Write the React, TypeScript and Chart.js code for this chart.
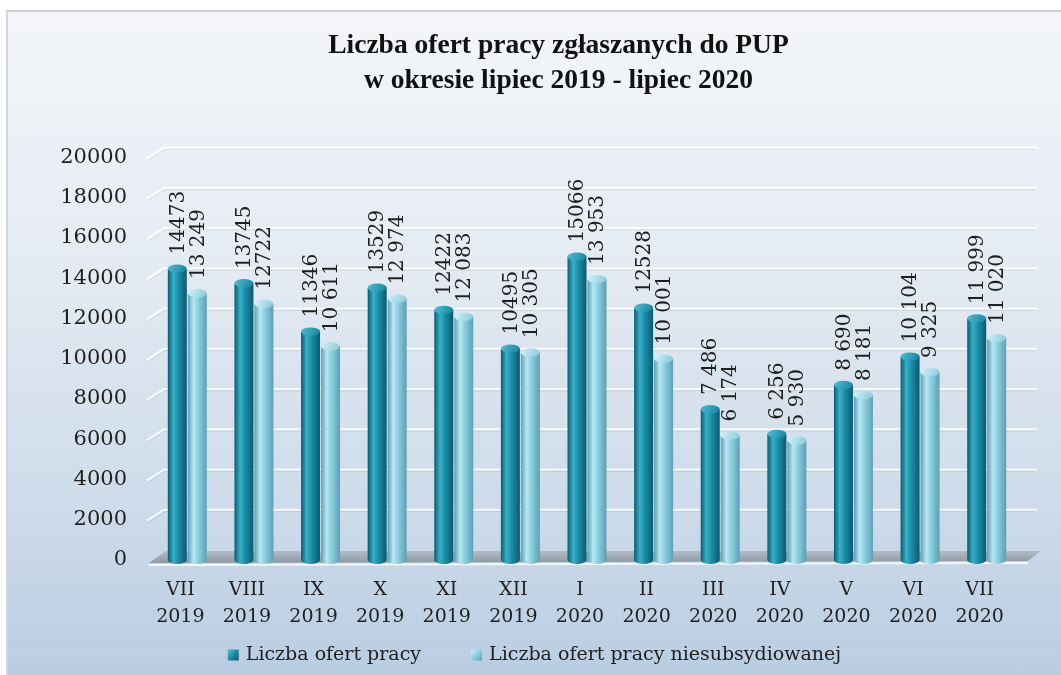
import React, { useEffect, useRef } from "react";
import { Chart, registerables } from "chart.js";

Chart.register(...registerables);

// ---------- data ----------
const months = ["VII", "VIII", "IX", "X", "XI", "XII", "I", "II", "III", "IV", "V", "VI", "VII"];
const years = ["2019", "2019", "2019", "2019", "2019", "2019", "2020", "2020", "2020", "2020", "2020", "2020", "2020"];
const offers = [14473, 13745, 11346, 13529, 12422, 10495, 15066, 12528, 7486, 6256, 8690, 10104, 11999];
const offersUnsub = [13249, 12722, 10611, 12974, 12083, 10305, 13953, 10001, 6174, 5930, 8181, 9325, 11020];
const offersLabels = ["14473", "13745", "11346", "13529", "12422", "10495", "15066", "12528", "7 486", "6 256", "8 690", "10 104", "11 999"];
const unsubLabels = ["13 249", "12722", "10 611", "12 974", "12 083", "10 305", "13 953", "10 001", "6 174", "5 930", "8 181", "9 325", "11 020"];
const seriesNames = ["Liczba ofert pracy", "Liczba ofert pracy niesubsydiowanej"];
const titleLines = ["Liczba ofert pracy zgłaszanych do PUP", "w okresie lipiec 2019 - lipiec 2020"];
const yMin = 0;
const yMax = 20000;
const yStep = 2000;

// ---------- styles ----------
const SERIF = "'DejaVu Serif', 'Liberation Serif', serif";
const TEXT = "#1f1f1f";
const DEPTH = 7;
const palettes = [
  { solid: "#1d8da7", edge: "#0a5b70", light: "#38b0c9", mid: "#1d8ea8", capA: "#4cc0d6", capB: "#17809a" },
  { solid: "#8acde0", edge: "#5c9fb3", light: "#b8e7f2", mid: "#8ccfe0", capA: "#d2f2f9", capB: "#86c8da" },
];
const allLabels = [offersLabels, unsubLabels];

function drawCylinder(ctx: CanvasRenderingContext2D, x: number, top: number, base: number, w: number, p: any) {
  const l = x - w / 2;
  const r = x + w / 2;
  const eh = Math.max(3, w * 0.22);
  const g = ctx.createLinearGradient(l, 0, r, 0);
  g.addColorStop(0, p.edge);
  g.addColorStop(0.3, p.light);
  g.addColorStop(0.55, p.mid);
  g.addColorStop(1, p.edge);
  ctx.fillStyle = g;
  ctx.beginPath();
  ctx.moveTo(l, top);
  ctx.lineTo(l, base);
  ctx.ellipse(x, base, w / 2, eh, 0, Math.PI, 0, true);
  ctx.lineTo(r, top);
  ctx.closePath();
  ctx.fill();
  const cg = ctx.createLinearGradient(l, top - eh, r, top + eh);
  cg.addColorStop(0, p.capA);
  cg.addColorStop(1, p.capB);
  ctx.fillStyle = cg;
  ctx.beginPath();
  ctx.ellipse(x, top, w / 2, eh, 0, 0, Math.PI * 2);
  ctx.fill();
}

const decorPlugin = {
  id: "decor3d",
  beforeDatasetsDraw(chart: any) {
    const ctx = chart.ctx as CanvasRenderingContext2D;
    const { left, right } = chart.chartArea;
    const ys = chart.scales.y;
    const base = ys.getPixelForValue(0);
    ctx.save();
    for (let v = yMin + yStep; v <= yMax; v += yStep) {
      const yv = ys.getPixelForValue(v);
      ctx.lineWidth = 2;
      ctx.strokeStyle = "rgba(255,255,255,0.8)";
      ctx.beginPath();
      ctx.moveTo(left, yv + 1);
      ctx.lineTo(left + 17, yv - 10);
      ctx.lineTo(right + 24, yv - 10);
      ctx.stroke();
      ctx.lineWidth = 1;
      ctx.strokeStyle = "rgba(140,155,170,0.22)";
      ctx.beginPath();
      ctx.moveTo(left + 1, yv + 3);
      ctx.lineTo(left + 18, yv - 8);
      ctx.lineTo(right + 22, yv - 8);
      ctx.stroke();
    }
    const fg = ctx.createLinearGradient(0, base - 9, 0, base + 3);
    fg.addColorStop(0, "#b3bcc6");
    fg.addColorStop(1, "#8e99a5");
    ctx.fillStyle = fg;
    ctx.beginPath();
    ctx.moveTo(left + 2, base + 3);
    ctx.lineTo(left + 19, base - 9);
    ctx.lineTo(right + 28, base - 9);
    ctx.lineTo(right + 15, base + 1);
    ctx.closePath();
    ctx.fill();
    ctx.strokeStyle = "rgba(255,255,255,0.8)";
    ctx.lineWidth = 2;
    ctx.beginPath();
    ctx.moveTo(left + 2, base + 5);
    ctx.lineTo(right + 15, base + 3);
    ctx.stroke();
    ctx.restore();
  },
  afterDatasetsDraw(chart: any) {
    const ctx = chart.ctx as CanvasRenderingContext2D;
    ctx.save();
    chart.data.datasets.forEach((ds: any, di: number) => {
      const meta = chart.getDatasetMeta(di);
      meta.data.forEach((bar: any) => {
        const p = bar.getProps(["x", "y", "base", "width"], true);
        drawCylinder(ctx, p.x + DEPTH, p.y, p.base, p.width, palettes[di]);
      });
    });
    chart.data.datasets.forEach((ds: any, di: number) => {
      const meta = chart.getDatasetMeta(di);
      meta.data.forEach((bar: any, i: number) => {
        const p = bar.getProps(["x", "y", "width"], true);
        const eh = Math.max(3, p.width * 0.22);
        ctx.save();
        ctx.translate(p.x + DEPTH + 1, p.y - eh - 10);
        ctx.rotate(-Math.PI / 2);
        ctx.font = `20px ${SERIF}`;
        ctx.fillStyle = TEXT;
        ctx.textAlign = "left";
        ctx.textBaseline = "middle";
        ctx.fillText(allLabels[di][i], 0, 0);
        ctx.restore();
      });
    });
    ctx.restore();
  },
  afterDraw(chart: any) {
    const ctx = chart.ctx as CanvasRenderingContext2D;
    ctx.save();
    ctx.font = `19px ${SERIF}`;
    const box = 11;
    const gapText = 7;
    const gapItem = 50;
    const names = chart.data.datasets.map((d: any) => d.label as string);
    const widths = names.map((n: string) => ctx.measureText(n).width);
    const total = widths.reduce((a: number, w: number) => a + box + gapText + w, 0) + gapItem * (names.length - 1);
    let x = chart.width / 2 - total / 2;
    const yc = 643;
    names.forEach((n: string, i: number) => {
      const p = palettes[i];
      const g = ctx.createLinearGradient(x, yc - box / 2, x + box, yc + box / 2);
      g.addColorStop(0, p.capA);
      g.addColorStop(0.5, p.mid);
      g.addColorStop(1, p.edge);
      ctx.fillStyle = g;
      ctx.fillRect(x, yc - box / 2, box, box);
      x += box + gapText;
      ctx.fillStyle = TEXT;
      ctx.textAlign = "left";
      ctx.textBaseline = "middle";
      ctx.fillText(n, x, yc);
      x += widths[i] + gapItem;
    });
    ctx.restore();
  },
};

export default function App() {
  const ref = useRef<HTMLCanvasElement>(null);
  useEffect(() => {
    if (!ref.current) return;
    const chart = new Chart(ref.current, {
      type: "bar",
      data: {
        labels: months.map((m, i) => [m, years[i]]),
        datasets: [
          { label: seriesNames[0], data: offers, backgroundColor: "rgba(0,0,0,0)", borderWidth: 0, yAxisID: "y" },
          { label: seriesNames[1], data: offersUnsub, backgroundColor: "rgba(0,0,0,0)", borderWidth: 0, yAxisID: "y" },
        ],
      },
      options: {
        responsive: false,
        animation: false,
        devicePixelRatio: 1,
        layout: { padding: { left: 48, right: 0, top: 0, bottom: 28 } },
        datasets: { bar: { categoryPercentage: 0.6, barPercentage: 0.95 } },
        plugins: {
          tooltip: { enabled: false },
          legend: { display: false },
          title: {
            display: true,
            text: titleLines,
            color: "#111111",
            font: { family: "'Liberation Serif', serif", size: 27.5, weight: "bold", lineHeight: 1.28 },
            padding: { top: 16, bottom: 59 },
          },
        },
        scales: {
          x: {
            grid: { display: false, drawTicks: false },
            border: { display: false },
            ticks: {
              color: TEXT,
              padding: 16,
              maxRotation: 0,
              autoSkip: false,
              font: { family: SERIF, size: 19, lineHeight: 1.45 },
            },
          },
          y: {
            min: yMin,
            max: yMax,
            grid: { display: false, drawTicks: false },
            border: { display: false },
            ticks: {
              stepSize: yStep,
              padding: 20,
              color: TEXT,
              font: { family: SERIF, size: 21 },
              callback: (v: any) => String(v),
            },
            afterFit: (s: any) => {
              s.width = 91;
            },
          },
          yRight: {
            type: "linear",
            position: "right",
            display: true,
            grid: { display: false, drawTicks: false },
            border: { display: false },
            ticks: { display: false },
            afterFit: (s: any) => {
              s.width = 48;
            },
          },
        },
      } as any,
      plugins: [decorPlugin],
    });
    return () => chart.destroy();
  }, []);

  return (
    <div
      style={{
        position: "absolute",
        left: 6,
        top: 10,
        width: 1055,
        height: 665,
        boxSizing: "border-box",
        borderTop: "2px solid #d3d3d3",
        borderLeft: "2px solid #d2d7de",
        background: "linear-gradient(to bottom, #f4f6f9 0%, #e6ecf3 35%, #cddbea 75%, #b9cde2 100%)",
      }}
    >
      <canvas ref={ref} width={1053} height={663} style={{ display: "block" }} />
    </div>
  );
}
